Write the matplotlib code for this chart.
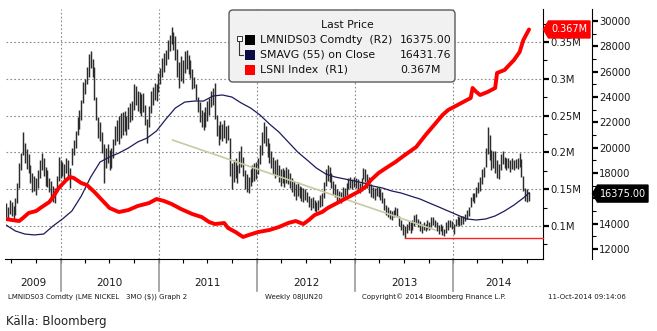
import datetime as dt
import matplotlib
matplotlib.use("Agg")
import matplotlib.pyplot as plt
import matplotlib.dates as mdates
from matplotlib.patches import FancyBboxPatch, Polygon, Rectangle
from matplotlib.lines import Line2D
from matplotlib.ticker import FixedLocator, FuncFormatter, NullLocator, MultipleLocator
from matplotlib.transforms import Affine2D, blended_transform_factory

# ---------------------------------------------------------------- data
# LME nickel 3M, weekly bars (USD/t), first bar week ending 2009-06-12
first_week = dt.date(2009, 6, 12)

bar_low = [
    14500, 14300, 14800, 14600, 14200, 14700, 15600, 16800, 18200, 19400,
    18800, 18300, 18000, 17200, 16500, 16600, 16300, 16800, 17600, 18200,
    17800, 17000, 16900, 16500, 16000, 15700, 15600, 16600, 17400, 17600,
    17800, 17500, 18000, 17600, 16800, 18600, 19400, 20000, 21000, 21500,
    22200, 23500, 24200, 25000, 25600, 26300, 25600, 23800, 22200, 20800,
    20500, 19600, 17200, 18400, 18800, 18200, 18400, 19200, 20200, 20500,
    20300, 20800, 21000, 21300, 21000, 21500, 22000, 22200, 23000, 23400,
    22900, 22700, 22500, 22800, 21800, 20400, 21600, 22700, 23400, 23800,
    23700, 24400, 25000, 25600, 26000, 26500, 27000, 27600, 28200, 27700,
    26900, 25600, 24700, 25300, 25100, 25900, 26200, 25800, 25500, 24600,
    24700, 23800, 22800, 22000, 21600, 21400, 21600, 22100, 22600, 23200,
    23400, 22300, 20900, 20200, 20700, 20500, 20800, 20400, 20600, 17800,
    16700, 17300, 17600, 17200, 18000, 18500, 17800, 16700, 16500, 16400,
    17000, 17300, 17400, 17500, 17900, 18700, 19400, 20400, 20100, 19300,
    18800, 18400, 17900, 17600, 17800, 17300, 17000, 17200, 16900, 17200,
    17100, 16800, 16500, 16200, 15900, 16200, 16000, 15800, 15700, 15900,
    15700, 15300, 15100, 15200, 15000, 14900, 15100, 15300, 15400, 16000,
    17000, 17400, 17300, 16800, 16300, 16100, 15700, 15800, 15600, 15900,
    16000, 16300, 16700, 16800, 16700, 16900, 16800, 16700, 16400, 16600,
    17500, 17300, 16800, 16400, 16100, 16000, 15900, 16200, 16100, 15900,
    15600, 15100, 14700, 14500, 14400, 14300, 14500, 14700, 14500, 13800,
    13500, 13100, 12900, 13300, 13500, 13300, 13500, 13800, 14000, 13700,
    13400, 13300, 13500, 13400, 13600, 13500, 13700, 13900, 13700, 13400,
    13200, 13400, 13100, 13000, 13300, 13500, 13700, 13600, 13200, 13800,
    13900, 13800, 13900, 14000, 14200, 14400, 14600, 15300, 15800, 15600,
    16100, 16400, 16600, 17100, 17700, 18500, 19500, 19000, 18200, 18400,
    18000, 17600, 17500, 18200, 18700, 18400, 18200, 18400, 18100, 18300,
    18200, 18400, 18300, 18500, 17700, 16600, 15800, 15700, 15800,
]

bar_high = [
    15600, 15300, 15900, 15700, 15400, 16000, 17200, 18800, 19600, 21200,
    20400, 19900, 19500, 18600, 18000, 17800, 17600, 18200, 19000, 19600,
    19200, 18500, 18200, 17600, 17400, 17000, 16800, 17800, 19300, 19000,
    18900, 18700, 19200, 19000, 18400, 20000, 20600, 21300, 22400, 23000,
    23800, 25200, 25400, 26400, 27400, 27600, 27000, 26400, 24000, 22400,
    22000, 21200, 20300, 20000, 20300, 19800, 20000, 20700, 21700, 22200,
    22500, 22700, 22800, 22900, 22500, 23200, 23500, 23700, 25000, 24900,
    24500, 24400, 24200, 24300, 23400, 22300, 23300, 24500, 24800, 25100,
    25000, 25900, 26300, 27100, 27500, 27700, 28500, 28900, 29500, 29100,
    28800, 27800, 26800, 27200, 26900, 27600, 27700, 27300, 26900, 26200,
    25600, 25000, 24000, 23600, 23000, 22800, 23200, 23700, 23900, 24500,
    24700, 25100, 22600, 21800, 22100, 21900, 22200, 21700, 21800, 20800,
    18800, 19000, 19200, 18600, 19700, 20100, 19300, 18200, 17900, 17700,
    18300, 18600, 18800, 18900, 19200, 20200, 21200, 22000, 21700, 20800,
    20400, 19700, 19300, 19000, 19100, 18600, 18300, 18400, 18200, 18500,
    18300, 18000, 17600, 17400, 17100, 17300, 17000, 16900, 16800, 16700,
    16500, 16200, 16000, 16100, 15900, 15700, 15900, 16300, 16400, 17300,
    18300, 18600, 18500, 18000, 17400, 17100, 16700, 16600, 16500, 16900,
    16800, 17200, 17600, 17700, 17500, 17700, 17600, 17500, 17200, 17600,
    18400, 18300, 17900, 17700, 17100, 16900, 16800, 16900, 16900, 16700,
    16500, 16000, 15500, 15300, 15100, 15000, 15100, 15300, 15200, 14600,
    14300, 14000, 13800, 14000, 14200, 14100, 14300, 14700, 14800, 14400,
    14200, 14000, 14100, 14000, 14300, 14100, 14500, 14500, 14300, 14100,
    13900, 14000, 13800, 13600, 14100, 14300, 14300, 14200, 14000, 14400,
    14600, 14500, 14600, 14600, 14800, 15100, 15300, 16100, 16400, 16400,
    16900, 17300, 17700, 18300, 18500, 20000, 21600, 21000, 19800, 19700,
    19700, 19000, 18700, 19500, 19700, 19300, 19200, 19200, 19000, 19200,
    19000, 19100, 19200, 19600, 19100, 17800, 16800, 16700, 16500,
]
last_close = 16375.00

# 55-week simple moving average of the close, every 5th week
sma_weeks = list(range(0, 276, 5)) + [278]
sma_vals = [
    13890, 13420, 13180, 13110, 13180, 13820, 14370, 15000, 16180, 17680,
    18870, 19260, 19580, 19970, 20450, 20760, 21320, 22260, 23130, 23600,
    23680, 23680, 24080, 24160, 24000, 23530, 23130, 22580, 21870, 21240,
    20450, 19660, 19030, 18390, 17920, 17680, 17530, 17370, 17210, 16970,
    16820, 16580, 16420, 16180, 15950, 15630, 15320, 15000, 14680, 14370,
    14290, 14370, 14610, 15000, 15470, 16030, 16431.76,
]

# LME nickel stocks (LSNI Index), millions of tonnes
stock_weeks = [
    0, 3, 7, 9, 12, 16, 19, 23, 25, 28, 32, 34, 36, 40, 43, 47, 51, 55, 60, 65,
    70, 76, 80, 84, 88, 93, 99, 104, 108, 111, 116, 118, 122, 126, 129, 134,
    140, 145, 150, 154, 158, 161, 164, 168, 171, 177, 182, 187, 191, 194, 198,
    202, 207, 212, 218, 223, 228, 232, 235, 242, 247, 248, 250, 252, 256, 260,
    261, 265, 270, 273, 275, 278,
]
stock_m = [
    0.1095, 0.1082, 0.1068, 0.1109, 0.1177, 0.1204, 0.1258, 0.1326, 0.1394, 0.1516,
    0.1625, 0.1666, 0.1652, 0.1584, 0.1557, 0.1462, 0.1353, 0.1245, 0.1190, 0.1217,
    0.1272, 0.1312, 0.1367, 0.1340, 0.1299, 0.1231, 0.1163, 0.1122, 0.1054, 0.1027,
    0.1041, 0.0973, 0.0918, 0.0851, 0.0878, 0.0918, 0.0946, 0.0986, 0.1041, 0.1068,
    0.1027, 0.1082, 0.1149, 0.1190, 0.1245, 0.1326, 0.1394, 0.1462, 0.1530, 0.1625,
    0.1720, 0.1788, 0.1870, 0.1965, 0.2073, 0.2236, 0.2386, 0.2508, 0.2576, 0.2671,
    0.2739, 0.2875, 0.2821, 0.2780, 0.2821, 0.2875, 0.3079, 0.3120, 0.3255, 0.3364,
    0.3527, 0.367,
]

# downward trend line drawn on the price panel
trend_dates = [dt.date(2011, 2, 22), dt.date(2013, 10, 26)]
trend_prices = [20600, 13500]

years = [2009, 2010, 2011, 2012, 2013, 2014]
r1_ticks = [0.10, 0.15, 0.20, 0.25, 0.30, 0.35]
r2_ticks = [12000, 14000, 16000, 18000, 20000, 22000, 24000, 26000, 28000, 30000]

# ---------------------------------------------------------------- figure
W, H = 657, 331
fig = plt.figure(figsize=(W / 100, H / 100), dpi=100)
px = Affine2D().scale(1 / 100.0) + fig.dpi_scale_trans  # pixel units, origin bottom-left


def fy(y_top):
    return H - y_top


AX_L, AX_R, AX_T, AX_B = 5.5, 543, 9, 259
ax = fig.add_axes([AX_L / W, (H - AX_B) / H, (AX_R - AX_L) / W, (AX_B - AX_T) / H])

week_num = lambda i: mdates.date2num(first_week + dt.timedelta(days=7 * i))
xd = [week_num(i) for i in range(len(bar_low))]

ax.set_xlim(mdates.date2num(dt.date(2009, 6, 10)), mdates.date2num(dt.date(2014, 12, 1)))
ax.set_ylim(0.0552, 0.3948)

ax2 = ax.twinx()
ax2.set_ylim(11210, 30948)
ax.yaxis.tick_right()

for s in ("left", "top"):
    ax.spines[s].set_visible(False)
    ax2.spines[s].set_visible(False)
ax2.spines["bottom"].set_visible(False)
ax.spines["right"].set_color("#000000")
ax.spines["bottom"].set_color("#000000")
ax2.spines["right"].set_position(("outward", 49 * 0.72))
ax2.spines["right"].set_color("#000000")

label_col = "#1a1a1a"
ax.yaxis.set_major_locator(FixedLocator(r1_ticks))
ax.yaxis.set_minor_locator(MultipleLocator(0.025))
ax.yaxis.set_major_formatter(FuncFormatter(lambda v, p: f"{v:g}M"))
ax.tick_params(axis="y", which="major", direction="out", length=4, width=1.6,
               labelsize=7.2, labelcolor=label_col, pad=1)
ax.tick_params(axis="y", which="minor", direction="out", length=3, width=0.8)


def price_label(v, p):
    # the last-price tag sits on top of the nearest tick label
    return "" if abs(v - last_close) < 800 else f"{v:.0f}"


ax2.yaxis.set_major_locator(FixedLocator(r2_ticks))
ax2.yaxis.set_minor_locator(MultipleLocator(1000))
ax2.yaxis.set_major_formatter(FuncFormatter(price_label))
ax2.tick_params(axis="y", which="major", direction="out", length=4, width=1.6,
                labelsize=7.2, labelcolor=label_col, pad=1)
ax2.tick_params(axis="y", which="minor", direction="out", length=3, width=0.8)

ax.xaxis.set_major_locator(NullLocator())
ax.xaxis.set_minor_locator(mdates.MonthLocator(bymonth=[1, 4, 7, 10]))
ax.xaxis.set_minor_formatter(FuncFormatter(lambda v, p: ""))
ax.tick_params(axis="x", which="minor", direction="out", length=3, width=0.8)

# grid: dotted horizontals at R1 ticks and verticals at year starts
grid_kw = dict(color="#8a8a8a", lw=0.8, ls=(0, (1.5, 2.0)), zorder=0)
for v in r1_ticks:
    ax.axhline(v, **grid_kw)
for y in years[1:]:
    ax.axvline(mdates.date2num(dt.date(y, 1, 1)), **grid_kw)

# year separators and labels under the axis
sep_tr = blended_transform_factory(ax.transData, ax.transAxes)
for y in years[1:]:
    xv = mdates.date2num(dt.date(y, 1, 1))
    ax.add_line(Line2D([xv, xv], [0, -(291 - AX_B) / (AX_B - AX_T)], transform=sep_tr,
                       color="#9a9a9a", lw=1.2, clip_on=False))
x_lo, x_hi = ax.get_xlim()
for y in years:
    a = max(mdates.date2num(dt.date(y, 1, 1)), x_lo)
    b = min(mdates.date2num(dt.date(y + 1, 1, 1)), x_hi)
    ax.text((a + b) / 2, -(283 - AX_B) / (AX_B - AX_T), str(y), transform=sep_tr,
            ha="center", va="center", fontsize=7.5, color=label_col, clip_on=False)

# ---------------------------------------------------------------- series
ax2.vlines(xd, bar_low, bar_high, color="#2c2c2c", lw=1.05, zorder=2)

ax2.plot([mdates.date2num(d) for d in trend_dates], trend_prices,
         color="#c9c9a3", lw=1.2, zorder=3)

ax2.plot([week_num(i) for i in sma_weeks], sma_vals, color="#1c1c5c", lw=0.9, zorder=4)

support = min(bar_low)
i_low = bar_low.index(support)
ax2.plot([xd[i_low], x_hi], [support, support], color="#ff2020", lw=1.0, zorder=4,
         clip_on=False)

ax2.plot([week_num(i) for i in stock_weeks], stock_m, transform=ax.transData,
         color="#ff0000", lw=2.8, solid_capstyle="round", solid_joinstyle="round", zorder=5)

# ---------------------------------------------------------------- value tags


def tag(x0, x1, yc, text, face):
    h = 8.5
    poly = Polygon([(x0, yc), (x0 + 5, yc + h), (x1, yc + h), (x1, yc - h), (x0 + 5, yc - h)],
                   closed=True, transform=px, facecolor=face, edgecolor=face, zorder=10)
    fig.add_artist(poly)
    fig.text((x0 + 5 + x1) / 2 / W, yc / H, text, color="white", fontsize=7.0,
             ha="center", va="center", zorder=11)


fig.canvas.draw()
yc_stock = ax.transData.transform((0, stock_m[-1]))[1] * 100 / fig.dpi
yc_price = ax2.transData.transform((0, last_close))[1] * 100 / fig.dpi
tag(543.5, 590, yc_stock, f"{stock_m[-1]:.3f}M", "#ff0000")
tag(592.5, 648, yc_price, f"{last_close:.2f}", "#000000")

# ---------------------------------------------------------------- legend box
box = FancyBboxPatch((229, fy(82)), 226, 72, boxstyle="round,pad=0,rounding_size=4",
                     transform=px, facecolor="#f1f1f1", edgecolor="#5a5a5a", lw=1.0, zorder=8)
fig.add_artist(box)
fig.text(347 / W, fy(25) / H, "Last Price", fontsize=7.8, ha="center", va="center",
         color="#111111", zorder=9)
rows = [
    ("#000000", "LMNIDS03 Comdty  (R2)", f"{last_close:.2f}"),
    ("#0a0a46", "SMAVG (55) on Close", f"{sma_vals[-1]:.2f}"),
    ("#ff0000", "LSNI Index  (R1)", f"{stock_m[-1]:.3f}M"),
]
for k, (col, name, val) in enumerate(rows):
    yr = 40 + 14.8 * k
    fig.add_artist(Rectangle((245, fy(yr) - 5), 10, 10, transform=px, facecolor=col,
                             edgecolor="none", zorder=9))
    fig.text(260 / W, fy(yr) / H, name, fontsize=7.8, ha="left", va="center",
             color="#111111", zorder=9)
    fig.text(400 / W, fy(yr) / H, val, fontsize=7.8, ha="left", va="center",
             color="#111111", zorder=9)
# small group icon linking the price and its average
fig.add_artist(Rectangle((236.5, fy(41)), 5, 5, transform=px, facecolor="white",
                         edgecolor="#333333", lw=0.7, zorder=9))
fig.add_artist(Line2D([239, 239, 243], [fy(41), fy(54.5), fy(54.5)], transform=px,
                      color="#333333", lw=0.8, zorder=9))

# ---------------------------------------------------------------- footer
foot_y = fy(297) / H
foot_kw = dict(fontsize=5.0, color="#1a1a1a", va="center", ha="left")
fig.text(8 / W, foot_y, "LMNIDS03 Comdty (LME NICKEL   3MO ($)) Graph 2", **foot_kw)
fig.text(265 / W, foot_y, "Weekly 08JUN20", **foot_kw)
fig.text(362 / W, foot_y, "Copyright\u00a9 2014 Bloomberg Finance L.P.", **foot_kw)
fig.text(548 / W, foot_y, "11-Oct-2014 09:14:06", **foot_kw)

fig.text(6 / W, fy(321) / H, "K\u00e4lla: Bloomberg", fontsize=8.5, ha="left", va="center",
         color="#222222", family=["Liberation Sans Narrow", "DejaVu Sans"])

fig.savefig("out.png", dpi=100)
